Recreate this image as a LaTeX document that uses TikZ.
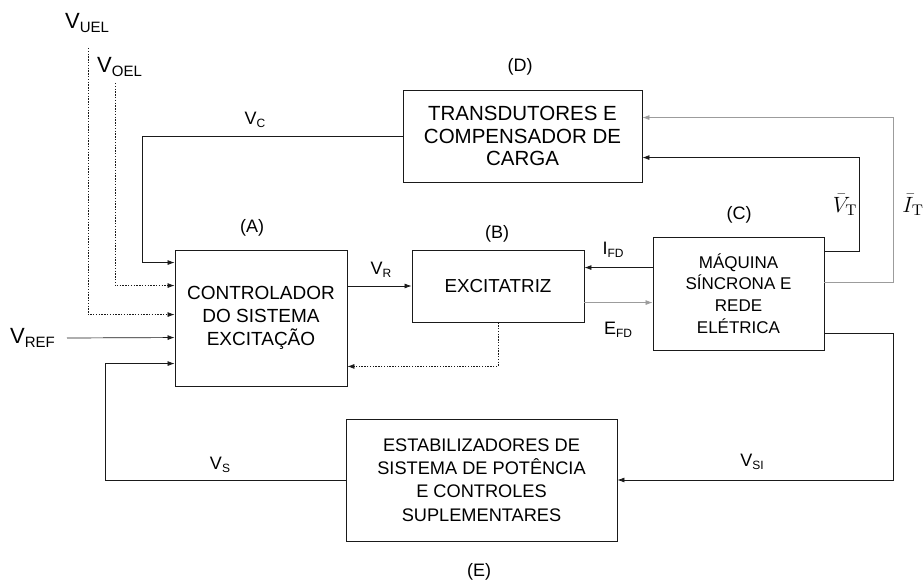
\RequirePackage{fix-cm}
\documentclass[tikz,border=0pt]{standalone}
\definecolor{KLine}{HTML}{1A1A1A}
\definecolor{KGrey}{HTML}{9C9C9C}
\usepackage[no-math]{fontspec}
\setmainfont{Liberation Sans}
\usepackage{tikz}
\usetikzlibrary{arrows.meta,positioning,calc}
\usepackage{xcolor}
\newcommand{\lowtxt}[1]{\raisebox{-0.3ex}{\fontsize{12}{12}\selectfont #1}}
\newcommand{\bigsig}[2]{{\fontsize{22}{22}\selectfont #1\raisebox{-0.3ex}{\fontsize{15}{15}\selectfont #2}}}
\newcommand{\barsig}[1]{\scalebox{1.3}{\fontsize{17}{17}\selectfont$\bar{#1}_{\mathrm{T}}$}}
\tikzset{
    blockbox/.style={rectangle,draw=KLine,line width=0.9pt,align=center,
        inner sep=0pt,font=\fontsize{18.2}{23.3}\selectfont},
    sig/.style={draw=KLine,line width=0.7pt,-{Latex[length=7pt,width=5pt]}},
    dotsig/.style={sig,dash pattern=on 1.4pt off 1.4pt},
    lbl/.style={font=\fontsize{18}{18}\selectfont,inner sep=0pt}
}

\begin{document}
\begin{tikzpicture}[x=1pt,y=-1pt]
    \useasboundingbox (0,0) rectangle (923,585);

    \node[blockbox,minimum width=172pt,minimum height=136pt,
          font=\fontsize{19}{23.3}\selectfont] (A) at (261,318)
        {CONTROLADOR\\DO SISTEMA\\EXCITAÇÃO};
    \node[blockbox,minimum width=172pt,minimum height=72pt,
          font=\fontsize{18.8}{23}\selectfont] (B) at (498,286)
        {EXCITATRIZ};
    \node[blockbox,minimum width=171pt,minimum height=113pt,
          font=\fontsize{17}{21.7}\selectfont] (C) at (738.5,293.5)
        {MÁQUINA\\SÍNCRONA E\\REDE\\ELÉTRICA};
    \node[blockbox,minimum width=239pt,minimum height=92pt,
          font=\fontsize{20.5}{22.7}\selectfont] (D) at (522.5,136)
        {TRANSDUTORES E\\COMPENSADOR DE\\CARGA};
    \node[blockbox,minimum width=271pt,minimum height=122pt] (E) at (481.5,480)
        {ESTABILIZADORES DE\\SISTEMA DE POTÊNCIA\\E CONTROLES\\SUPLEMENTARES};

    \node[lbl] (tagA) at (252,228) {(A)};
    \node[lbl] (tagB) at (497,234) {(B)};
    \node[lbl] (tagC) at (739,215) {(C)};
    \node[lbl] (tagD) at (520,67) {(D)};
    \node[lbl] (tagE) at (479,572) {(E)};

    \coordinate (ainC) at ($(A.north west)+(0,13)$);
    \coordinate (ainO) at ($(A.north west)+(0,36)$);
    \coordinate (ainU) at ($(A.north west)+(0,65)$);
    \coordinate (ainR) at ($(A.north west)+(0,88)$);
    \coordinate (ainS) at ($(A.north west)+(0,114)$);
    \coordinate (aoutB) at ($(A.south east)+(0,-20)$);
    \coordinate (uel) at (88,48);
    \coordinate (oel) at (115,83);
    \coordinate (refin) at (67,338);
    \coordinate (cI) at ($(C.north west)+(0,31)$);
    \coordinate (cE) at ($(C.north west)+(0,66)$);
    \coordinate (cV) at ($(C.north east)+(0,15)$);
    \coordinate (cIT) at ($(C.north east)+(0,46)$);
    \coordinate (cS) at ($(C.south east)+(0,-17)$);
    \coordinate (dinV) at ($(D.north east)+(0,68)$);
    \coordinate (dinI) at ($(D.north east)+(0,28)$);

    \draw[sig] (D.west) -| ($(ainC)+(-32,0)$) -- (ainC);
    \draw[dotsig] (oel) |- (ainO);
    \draw[dotsig] (uel) |- (ainU);
    \draw[sig] (refin) -- (ainR);
    \draw[sig] (E.west) -| ($(ainS)+(-69,0)$) -- (ainS);
    \draw[dotsig] (B.south) |- (aoutB);
    \draw[sig] (B.west -| A.east) -- (B.west);
    \draw[sig] (cI) -- (cI -| B.east);
    \draw[sig,draw=KGrey] (cE -| B.east) -- (cE);
    \draw[sig] (cV) -- ++(35,0) |- (dinV);
    \draw[sig,draw=KGrey] (cIT) -- ++(69,0) |- (dinI);
    \draw[sig] (cS) -- ++(69,0) |- (E.east);

    \node[lbl,anchor=west] (vuel) at (65,23) {\bigsig{V}{UEL}};
    \node[lbl,anchor=west] (voel) at (97,67) {\bigsig{V}{OEL}};
    \node[lbl,left=12pt of refin] (vref) {\bigsig{V}{REF}};
    \node[lbl] (vc) at (255,120) {V\lowtxt{C}};
    \node[lbl] (vr) at (381,270) {V\lowtxt{R}};
    \node[lbl] (ifd) at (613,250) {I\lowtxt{FD}};
    \node[lbl] (efd) at (618,330) {E\lowtxt{FD}};
    \node[lbl] (vt) at (845,205) {\barsig{V}};
    \node[lbl] (it) at (913,205) {\barsig{I}};
    \node[lbl] (vs) at (220,465) {V\lowtxt{S}};
    \node[lbl] (vsi) at (752,462) {V\lowtxt{SI}};
\end{tikzpicture}
\end{document}
